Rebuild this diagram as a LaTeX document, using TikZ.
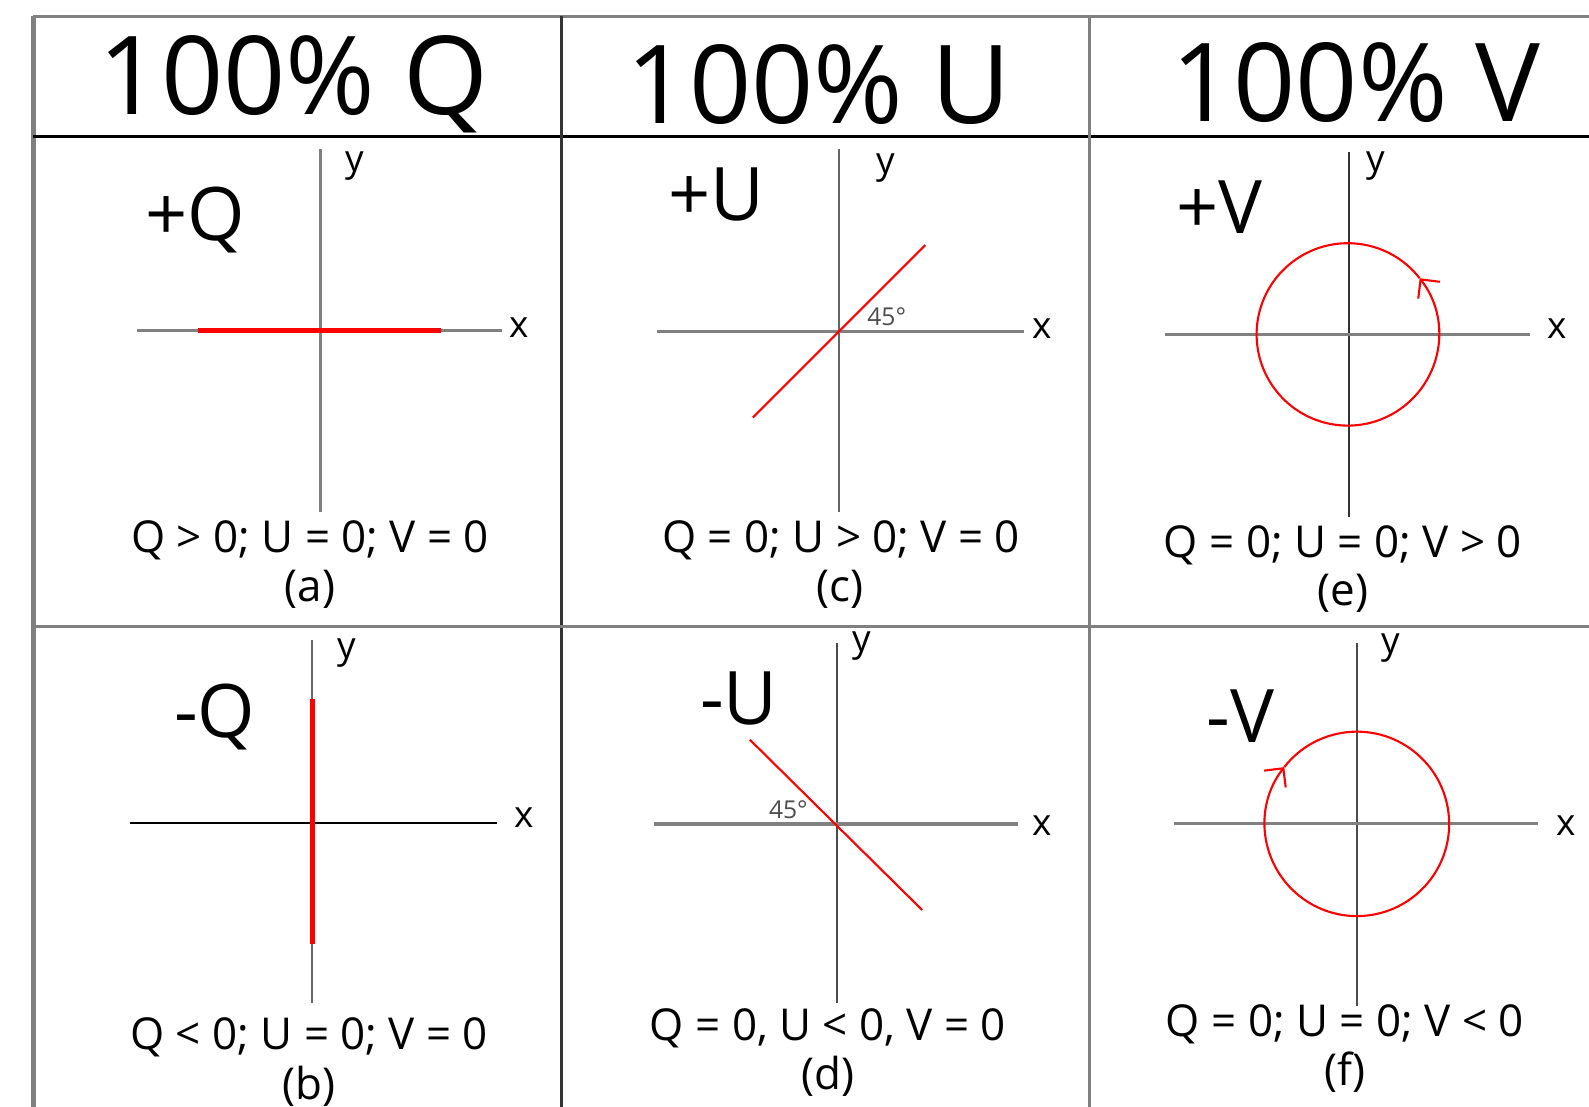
\documentclass[tikz,border=0pt]{standalone}
\usepackage{fontspec}
\setmainfont{Open Sans}
\usepackage{xcolor}
\usepackage{tikz}
\usetikzlibrary{arrows.meta}

\begin{document}
\begin{tikzpicture}[
  x=0.010134cm, y=-0.010134cm,
  tableline/.style={line width=0.9pt, draw=black!50},
  axisline/.style={line width=0.85pt, draw=black!50},
  darkline/.style={line width=0.7pt, draw=black!80},
  pol/.style={draw=red, line width=0.6pt},
  thickpol/.style={draw=red, line width=1.4pt},
  spin/.style={pol, -{Straight Barb[angle=90:5.5pt]}},
  head/.style={font=\fontsize{31}{36}\selectfont, anchor=base, inner sep=0pt},
  sign/.style={font=\fontsize{21}{24}\selectfont, anchor=base, inner sep=0pt},
  cond/.style={font=\fontsize{12.5}{14}\selectfont, anchor=base, inner sep=0pt},
  lab/.style={font=\fontsize{10.5}{12}\selectfont, anchor=base, inner sep=0pt},
  ang/.style={font=\fontsize{7}{8}\selectfont, text=black!70, anchor=base, inner sep=0pt}
]
\useasboundingbox (0,0) rectangle (1568,1092);

% Table frame
\draw[tableline] (33,16) -- (1568,16);
\draw[tableline, line width=1.2pt] (33,16) -- (33,1092);
\draw[tableline, draw=black] (33,135) -- (1568,135);
\draw[tableline, draw=black!80, line width=0.7pt] (554,16) -- (554,1092);
\draw[tableline] (1075,16) -- (1075,1092);
\draw[tableline, line width=0.75pt] (33,618) -- (1568,618);

% Header row
\node[head] (headQ) at (290,113) {100\% Q};
\node[head] (headU) at (808,122) {100\% U};
\node[head] (headV) at (1338,120) {100\% V};

% (a) +Q
\draw[axisline] (316,147) -- (316,505);
\draw[axisline] (135,326) -- (495,326);
\draw[thickpol] (195,326) -- (435,326);
\node[lab] (ya) at (350,169) {y};
\node[lab] (xa) at (512,333) {x};
\node[sign] (signa) at (193,237) {+Q};
\node[cond] (conda) at (306,545) {Q > 0;\ U = 0;\ V = 0};
\node[cond] (capa) at (306,594) {(a)};

% (c) +U
\draw[darkline, draw=black!60] (828,147) -- (828,505);
\draw[axisline] (648,327) -- (1010,327);
\draw[pol] (743,412) -- (913,242);
\node[ang] (angc) at (875,321) {45°};
\node[lab] (yc) at (874,171) {y};
\node[lab] (xc) at (1028,334) {x};
\node[sign] (signc) at (707,218) {+U};
\node[cond] (condc) at (830,545) {Q = 0;\ U > 0;\ V = 0};
\node[cond] (capc) at (829,594) {(c)};

% (e) +V
\coordinate (ec) at (1330,330);
\draw[darkline] (1331,150) -- (1331,510);
\draw[axisline] (1150,330) -- (1510,330);
\draw[spin] (ec) ++(-38:90) arc[start angle=-38, end angle=-398, radius=90];
\node[lab] (ye) at (1358,169) {y};
\node[lab] (xe) at (1537,334) {x};
\node[sign] (signe) at (1203,230) {+V};
\node[cond] (conde) at (1325,550) {Q = 0;\ U = 0;\ V > 0};
\node[cond] (cape) at (1325,598) {(e)};

% (b) -Q
\draw[darkline, draw=black!60] (308,632) -- (308,990);
\draw[darkline, draw=black, line width=0.6pt] (128,812) -- (490,812);
\draw[thickpol] (308,690) -- (308,932);
\node[lab] (yb) at (342,650) {y};
\node[lab] (xb) at (517,817) {x};
\node[sign] (signb) at (212,728) {-Q};
\node[cond] (condb) at (305,1036) {Q < 0;\ U = 0;\ V = 0};
\node[cond] (capb) at (305,1085) {(b)};

% (d) -U
\draw[darkline, draw=black!70] (826,635) -- (826,990);
\draw[axisline, line width=1pt] (645,813) -- (1005,813);
\draw[pol] (740,730) -- (910,898);
\node[ang] (angd) at (778,808) {45°};
\node[lab] (yd) at (850,643) {y};
\node[lab] (xd) at (1028,824) {x};
\node[sign] (signd) at (729,715) {-U};
\node[cond] (condd) at (817,1027) {Q = 0,\ U < 0,\ V = 0};
\node[cond] (capd) at (817,1075) {(d)};

% (f) -V
\coordinate (fc) at (1339,813);
\draw[darkline, draw=black!70] (1339,635) -- (1339,993);
\draw[axisline] (1158,813) -- (1518,813);
\draw[spin] (fc) ++(-142:91) arc[start angle=-142, end angle=218, radius=91];
\node[lab] (yf) at (1372,645) {y};
\node[lab] (xf) at (1545,824) {x};
\node[sign] (signf) at (1224,733) {-V};
\node[cond] (condf) at (1327,1023) {Q = 0;\ U = 0;\ V < 0};
\node[cond] (capf) at (1327,1071) {(f)};
\end{tikzpicture}
\end{document}
